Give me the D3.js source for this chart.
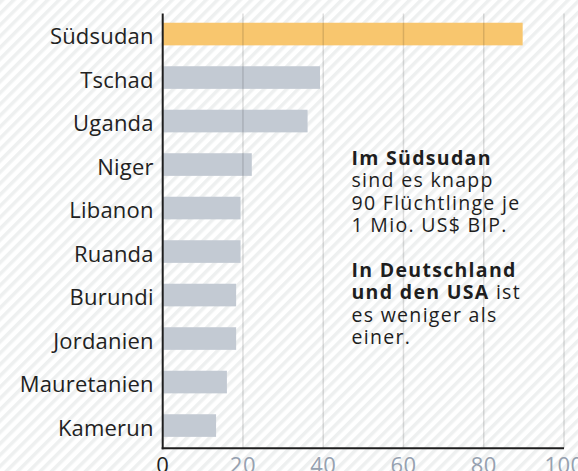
<!DOCTYPE html>
<html lang="de">
<head>
    <meta charset="UTF-8">
    <title>Flüchtlinge je 1 Mio. US$ BIP</title>
    <script src="https://d3js.org/d3.v7.min.js"></script>
    <style>
        body { margin: 0; background: #fff; }
        text { font-family: "Open Sans", sans-serif; }
    </style>
</head>
<body>
    <div id="chart"></div>

    <script>
        // Flüchtlinge je 1 Mio. US$ BIP
        var countries = ["Südsudan", "Tschad", "Uganda", "Niger", "Libanon", "Ruanda", "Burundi", "Jordanien", "Mauretanien", "Kamerun"];
        var values = [89.7, 39.2, 36.1, 22.2, 19.4, 19.4, 18.3, 18.3, 16.0, 13.3];
        var highlight = "Südsudan";
        var ticks = [0, 20, 40, 60, 80, 100];

        var noteLines = [
            [{t: "Im Südsudan", b: true}],
            [{t: "sind es knapp", b: false}],
            [{t: "90 Flüchtlinge je", b: false}],
            [{t: "1 Mio. US$ BIP.", b: false}],
            [],
            [{t: "In Deutschland", b: true}],
            [{t: "und den USA", b: true}, {t: " ist", b: false}],
            [{t: "es weniger als", b: false}],
            [{t: "einer.", b: false}]
        ];

        var W = 578, H = 471;

        var svg = d3.select("#chart")
            .append("svg")
            .attr("width", W)
            .attr("height", H);

        // striped background
        var pat = svg.append("defs").append("pattern")
            .attr("id", "stripes")
            .attr("width", 8)
            .attr("height", 8)
            .attr("patternUnits", "userSpaceOnUse")
            .attr("patternTransform", "rotate(45)");
        pat.append("rect").attr("width", 8).attr("height", 8).attr("fill", "#ffffff");
        pat.append("rect").attr("width", 3.5).attr("height", 8).attr("fill", "#eef0f0");

        svg.append("rect")
            .attr("width", W)
            .attr("height", H)
            .attr("fill", "url(#stripes)");

        var x = d3.scaleLinear()
            .domain([0, 100])
            .range([162.7, 564]);

        var y = d3.scaleBand()
            .domain(countries)
            .range([12.3, 447.3])
            .paddingInner(0.48)
            .paddingOuter(0.24);

        var axisTop = 13.5, axisBottom = 448.3;

        // bars
        svg.append("g")
            .selectAll("rect")
            .data(countries)
            .enter()
            .append("rect")
                .attr("x", x(0))
                .attr("y", function(d) { return y(d); })
                .attr("width", function(d, i) { return x(values[i]) - x(0); })
                .attr("height", y.bandwidth())
                .attr("fill", function(d) { return d == highlight ? "#f8c66e" : "#c3cad3"; });

        // grid lines (drawn over the bars)
        svg.append("g")
            .selectAll("line")
            .data(ticks.slice(1))
            .enter()
            .append("line")
                .attr("x1", function(d) { return x(d); })
                .attr("x2", function(d) { return x(d); })
                .attr("y1", axisTop)
                .attr("y2", axisBottom)
                .attr("stroke", "rgba(0,0,0,0.13)")
                .attr("stroke-width", 1.5);

        // axis lines
        svg.append("line")
            .attr("x1", x(0)).attr("x2", x(0))
            .attr("y1", axisTop).attr("y2", axisBottom + 1)
            .attr("stroke", "#1e1e1e")
            .attr("stroke-width", 2);
        svg.append("line")
            .attr("x1", x(0) - 1).attr("x2", x(100))
            .attr("y1", axisBottom).attr("y2", axisBottom)
            .attr("stroke", "#1e1e1e")
            .attr("stroke-width", 2);

        // category labels
        svg.append("g")
            .selectAll("text")
            .data(countries)
            .enter()
            .append("text")
                .attr("x", x(0) - 9)
                .attr("y", function(d) { return y(d) + y.bandwidth() / 2; })
                .attr("dy", "0.47em")
                .attr("text-anchor", "end")
                .attr("font-size", 22)
                .attr("letter-spacing", 0.2)
                .attr("fill", "#222")
                .text(function(d) { return d; });

        // tick labels
        svg.append("g")
            .selectAll("text")
            .data(ticks)
            .enter()
            .append("text")
                .attr("x", function(d) { return x(d); })
                .attr("y", 472.5)
                .attr("text-anchor", "middle")
                .attr("font-size", 22)
                .attr("letter-spacing", 0.5)
                .attr("fill", function(d) { return d == 0 ? "#1e1e1e" : "#96a1b0"; })
                .text(function(d) { return d; });

        // annotation
        var note = svg.append("text")
            .attr("x", 351.5)
            .attr("y", 165)
            .attr("font-size", 19.5)
            .attr("letter-spacing", 1.3)
            .attr("fill", "#1e1e1e");

        noteLines.forEach(function(line, i) {
            var first = true;
            if (line.length == 0) return;
            line.forEach(function(part) {
                var ts = note.append("tspan")
                    .attr("font-weight", part.b ? 700 : 400)
                    .text(part.t);
                if (first) {
                    ts.attr("x", 351.5).attr("y", 165 + i * 22.4);
                    first = false;
                }
            });
        });
    </script>
</body>
</html>
